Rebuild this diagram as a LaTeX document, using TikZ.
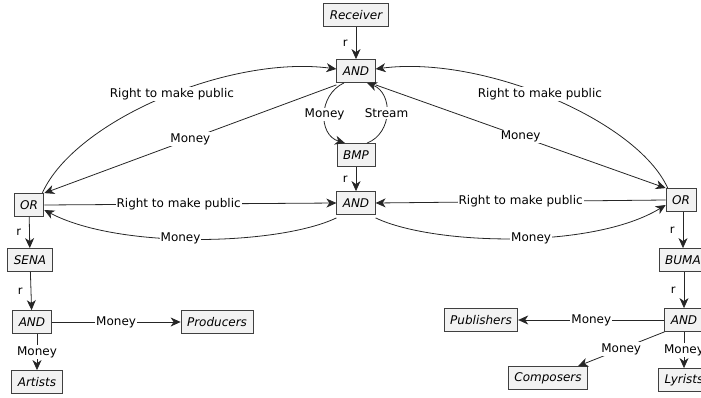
\documentclass[tikz,border=0pt]{standalone}
\usepackage{fontspec}
\setmainfont{DejaVu Sans}
\usetikzlibrary{arrows.meta}
\begin{document}
\begin{tikzpicture}[x=1pt,y=-1pt,
  box/.style={draw=black!75,fill=black!5,line width=0.8pt,font=\fontsize{12}{14}\selectfont\itshape,inner xsep=6pt,inner ysep=0pt,minimum height=23pt},
  conn/.style={draw=black!85,line width=0.8pt,-{Stealth[length=10pt,width=9pt,inset=3pt]}},
  lbl/.style={fill=white,inner sep=1pt,font=\fontsize{12}{14}\selectfont},
  rl/.style={left,xshift=-7pt,inner sep=1pt,font=\fontsize{11.5}{13}\selectfont}]
\useasboundingbox (0,0) rectangle (701,398);
% nodes
\node[box] (rec) at (356,15) {Receiver};
\node[box] (andT) at (356,71) {AND};
\node[box] (bmp) at (356,155) {BMP};
\node[box] (andM) at (356,203) {AND};
\node[box] (orL) at (29,205) {OR};
\node[box] (sena) at (30,260) {SENA};
\node[box] (andL) at (32,322) {AND};
\node[box] (prod) at (217,322) {Producers};
\node[box] (art) at (37,382) {Artists};
\node[box] (orR) at (681,200) {OR};
\node[box] (buma) at (683,260) {BUMA};
\node[box] (andR) at (684,320) {AND};
\node[box] (pub) at (481,320) {Publishers};
\node[box] (comp) at (548,378) {Composers};
\node[box] (lyr) at (684,380) {Lyrists};
% top
\draw[conn] (rec) -- node[rl]{r} (andT);
\draw[conn] ([xshift=-2pt]orL.north east) .. controls (75,120) and (230,55) .. node[lbl,pos=0.53]{Right to make public} ([yshift=2pt]andT.west);
\draw[conn] ([xshift=2pt]orR.north west) .. controls (637,120) and (482,55) .. node[lbl,pos=0.53]{Right to make public} ([yshift=2pt]andT.east);
\draw[conn] ([yshift=-2pt]andT.south west) -- node[lbl]{Money} (orL.north east);
\draw[conn] ([yshift=-2pt]andT.south east) -- node[lbl]{Money} (orR.north west);
\draw[conn] ([xshift=-12pt]andT.south) .. controls (318,95) and (318,135) .. node[lbl]{Money} ([xshift=-11pt]bmp.north);
\draw[conn] ([xshift=11pt]bmp.north) .. controls (393,133) and (393,93) .. node[lbl]{Stream} ([xshift=11pt]andT.south);
\draw[conn] (bmp) -- node[rl]{r} (andM);
% middle
\draw[conn] (orL.east) -- node[lbl,pos=0.46]{Right to make public} (andM.west);
\draw[conn] (orR.west) -- node[lbl]{Right to make public} (andM.east);
\draw[conn] ([yshift=-3pt]andM.south west) .. controls (280,245) and (120,250) .. node[lbl,pos=0.55]{Money} ([yshift=-5pt]orL.east);
\draw[conn] ([yshift=-3pt]andM.south east) .. controls (432,245) and (592,250) .. node[lbl,pos=0.55]{Money} ([yshift=-5pt]orR.west);
% left
\draw[conn] (orL) -- node[rl]{r} (sena);
\draw[conn] (sena) -- node[rl]{r} (andL);
\draw[conn] (andL) -- node[lbl]{Money} (prod);
\draw[conn] (art.north |- andL.south) -- node[lbl]{Money} (art);
% right
\draw[conn] (orR.south -| buma.north) -- node[rl]{r} (buma);
\draw[conn] (buma.south -| andR.north) -- node[rl]{r} (andR);
\draw[conn] (andR) -- node[lbl]{Money} (pub);
\draw[conn] (andR.south west) -- node[lbl]{Money} ([xshift=-10pt]comp.north east);
\draw[conn] (andR) -- node[lbl]{Money} (lyr);
\end{tikzpicture}
\end{document}
